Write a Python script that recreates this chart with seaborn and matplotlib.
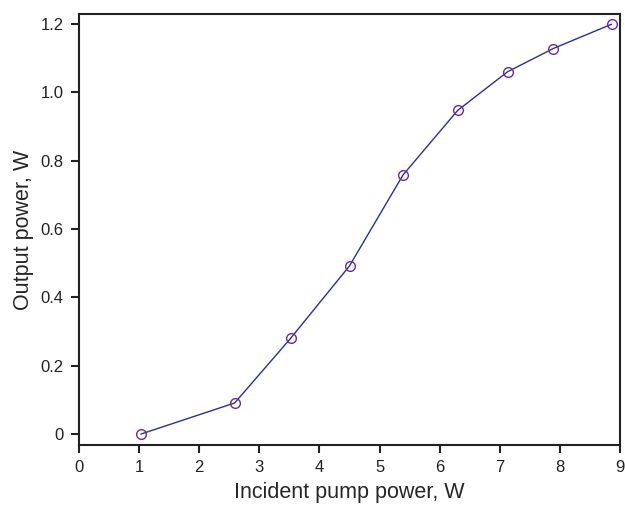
import numpy as np
import pandas as pd
import matplotlib
matplotlib.use("Agg")
import matplotlib.pyplot as plt
import seaborn as sns

# data
pump_power = [1.03, 2.59, 3.52, 4.50, 5.39, 6.30, 7.13, 7.89, 8.86]
output_power = [0.0, 0.091, 0.280, 0.492, 0.758, 0.947, 1.060, 1.128, 1.199]
x_ticks = list(range(0, 10))
y_ticks = [0, 0.2, 0.4, 0.6, 0.8, 1.0, 1.2]
y_tick_labels = ["0", "0.2", "0.4", "0.6", "0.8", "1.0", "1.2"]

df = pd.DataFrame({"pump": pump_power, "out": output_power})

sns.set_style("ticks")
plt.rcParams["font.family"] = ["Liberation Sans", "DejaVu Sans"]

fig = plt.figure(figsize=(6.25, 5.05), dpi=100)
ax = fig.add_axes([0.1264, 0.1188, 0.8656, 0.8535])

sns.lineplot(
    data=df,
    x="pump",
    y="out",
    ax=ax,
    color="#2b2f96",
    linewidth=1.0,
    marker="o",
    markersize=7,
    markerfacecolor="none",
    markeredgecolor="#6a2aa0",
    markeredgewidth=1.0,
)

ax.set_xlim(0, 9)
ax.set_ylim(-0.032, 1.229)
ax.set_xticks(x_ticks)
ax.set_yticks(y_ticks)
ax.set_yticklabels(y_tick_labels)
ax.tick_params(direction="out", length=6, width=1.5, labelsize=12,
               colors="#222222", pad=5)
for s in ax.spines.values():
    s.set_linewidth(1.5)
    s.set_color("#222222")

ax.set_xlabel("Incident pump power, W", fontsize=15.5, labelpad=5)
ax.set_ylabel("Output power, W", fontsize=15.5, labelpad=5)

fig.savefig("out.png", dpi=100)
